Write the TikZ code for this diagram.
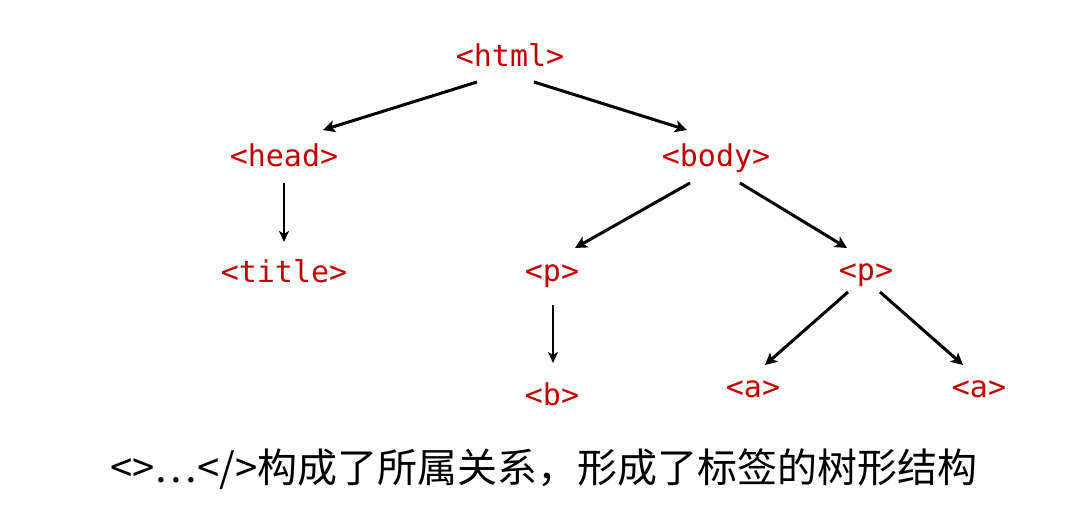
\documentclass[tikz,border=0pt]{standalone}
\usepackage{fontspec}
\setmonofont{DejaVu Sans Mono}
\newfontfamily\cjk{Noto Sans CJK SC}
\usetikzlibrary{arrows.meta,calc}
\definecolor{tagred}{RGB}{192,0,0}
\begin{document}
\begin{tikzpicture}[x=1pt,y=-1pt,
  tag/.style={text=tagred,font=\ttfamily\fontsize{30}{30}\selectfont,inner sep=0pt,anchor=base},
  link/.style={line width=3pt,-{Stealth[length=12pt,width=12pt,inset=3pt]}},
  vlink/.style={line width=2.4pt,-{Stealth[length=11pt,width=10pt,inset=3pt]}}]
\useasboundingbox (0,0) rectangle (1071,524);
\fill[white] (0,0) rectangle (1071,524);
% nodes
\node[tag] (html)  at (510,67)  {<html>};
\node[tag] (head)  at (284,167) {<head>};
\node[tag] (body)  at (716,167) {<body>};
\node[tag] (title) at (284,282) {<title>};
\node[tag] (p1)    at (552,281) {<p>};
\node[tag] (p2)    at (866,280) {<p>};
\node[tag] (b)     at (552,405) {<b>};
\node[tag] (a1)    at (753,397) {<a>};
\node[tag] (a2)    at (979,397) {<a>};
% connectors
\draw[link] ($(html.base)+(-33,15)$) -- ($(head.base)+(39,-37)$);
\draw[link] ($(html.base)+(24,15)$) -- ($(body.base)+(-29,-37)$);
\draw[vlink] ($(head.base)+(0,16)$) -- ($(title.base)+(0,-40)$);
\draw[link] ($(body.base)+(-26,16)$) -- ($(p1.base)+(23,-33)$);
\draw[link] ($(body.base)+(24,16)$) -- ($(p2.base)+(-19,-32)$);
\draw[vlink] ($(p1.base)+(1,24)$) -- ($(b.base)+(1,-42)$);
\draw[link] ($(p2.base)+(-18,12)$) -- ($(a1.base)+(12,-32)$);
\draw[link] ($(p2.base)+(14,12)$) -- ($(a2.base)+(-16,-32)$);
% caption
\node[font=\cjk\fontsize{40}{40}\selectfont,inner sep=0pt,anchor=base] (cap) at (544,482) {<>…</>构成了所属关系，形成了标签的树形结构};
\end{tikzpicture}
\end{document}
